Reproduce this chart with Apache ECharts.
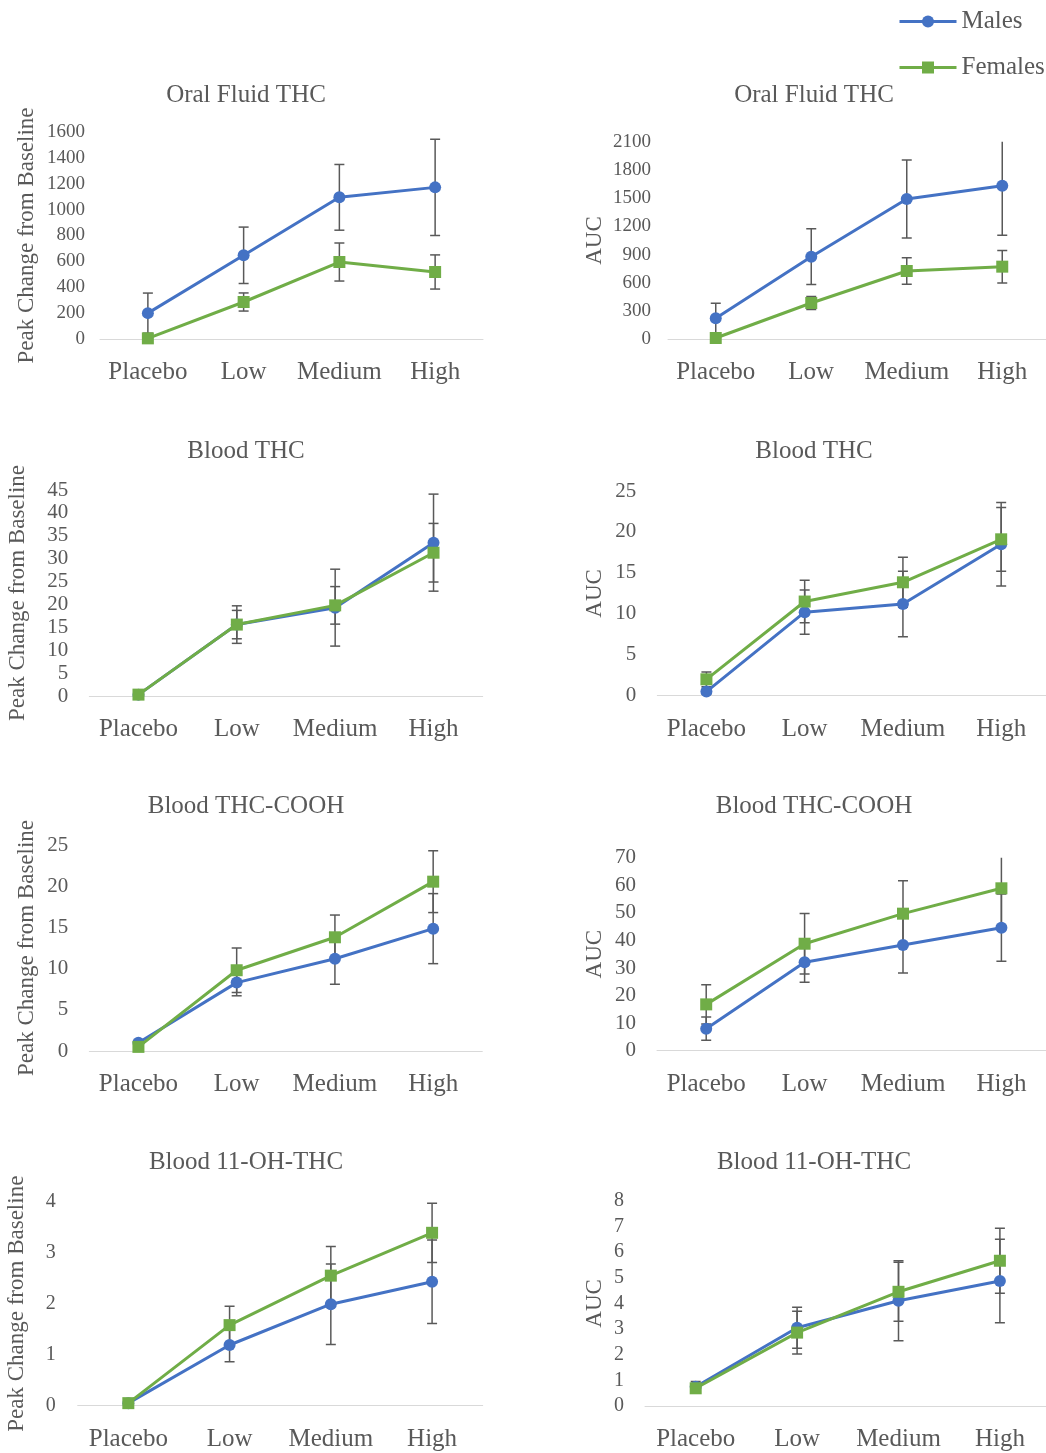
<!DOCTYPE html>
<html>
<head>
<meta charset="utf-8">
<script src="https://cdn.jsdelivr.net/npm/echarts@6/dist/echarts.min.js"></script>
<style>
html,body{margin:0;padding:0;background:#fff;overflow:hidden;}
#chart{width:1060px;height:1453px;}
</style>
</head>
<body>
<div id="chart"></div>
<script>
// ---- data ----
const categories = ['Placebo', 'Low', 'Medium', 'High'];
const seriesNames = ['Males', 'Females'];
const panelTitles = ['Oral Fluid THC', 'Oral Fluid THC', 'Blood THC', 'Blood THC',
  'Blood THC-COOH', 'Blood THC-COOH', 'Blood 11-OH-THC', 'Blood 11-OH-THC'];
const axisNames = ['Peak Change from Baseline', 'AUC', 'Peak Change from Baseline', 'AUC',
  'Peak Change from Baseline', 'AUC', 'Peak Change from Baseline', 'AUC'];
const yMax = [1600, 2100, 45, 25, 25, 70, 4, 8];
const yStep = [200, 300, 5, 5, 5, 10, 1, 1];

const oralPeakMales = [200, 647, 1095, 1172];
const oralPeakMalesErr = [155, 218, 254, 372];
const oralPeakFemales = [5, 286, 595, 518];
const oralPeakFemalesErr = [10, 70, 147, 132];

const oralAucMales = [223, 878, 1491, 1632];
const oralAucMalesErr = [160, 296, 415, 525];
const oralAucFemales = [14, 386, 726, 772];
const oralAucFemalesErr = [15, 70, 141, 173];

const thcPeakMales = [0.3, 15.6, 19.3, 33.5];
const thcPeakMalesErr = [0.2, 4.1, 8.4, 10.6];
const thcPeakFemales = [0.3, 15.6, 19.8, 31.3];
const thcPeakFemalesErr = [0.2, 3.1, 4.1, 6.4];

const thcAucMales = [0.5, 10.2, 11.2, 18.5];
const thcAucMalesErr = [0.3, 2.7, 4.0, 5.1];
const thcAucFemales = [2.0, 11.5, 13.85, 19.1];
const thcAucFemalesErr = [0.9, 2.6, 3.05, 3.9];

const coohPeakMales = [1.0, 8.3, 11.2, 14.85];
const coohPeakMalesErr = [0.3, 1.6, 3.1, 4.25];
const coohPeakFemales = [0.5, 9.8, 13.8, 20.55];
const coohPeakFemalesErr = [0.2, 2.7, 2.7, 3.75];

const coohAucMales = [8.0, 32.1, 38.3, 44.6];
const coohAucMalesErr = [4.2, 7.3, 10.1, 12.2];
const coohAucFemales = [16.8, 38.8, 49.7, 58.9];
const coohAucFemalesErr = [7.1, 11.0, 11.9, 13.5];

const ohPeakMales = [0.05, 1.19, 1.99, 2.43];
const ohPeakMalesErr = [0.02, 0.33, 0.79, 0.82];
const ohPeakFemales = [0.05, 1.58, 2.55, 3.39];
const ohPeakFemalesErr = [0.02, 0.37, 0.57, 0.58];

const ohAucMales = [0.75, 3.05, 4.1, 4.87];
const ohAucMalesErr = [0.2, 0.8, 1.56, 1.63];
const ohAucFemales = [0.69, 2.86, 4.45, 5.66];
const ohAucFemalesErr = [0.15, 0.83, 1.15, 1.27];

const malesData = [oralPeakMales, oralAucMales, thcPeakMales, thcAucMales, coohPeakMales, coohAucMales, ohPeakMales, ohAucMales];
const malesErr = [oralPeakMalesErr, oralAucMalesErr, thcPeakMalesErr, thcAucMalesErr, coohPeakMalesErr, coohAucMalesErr, ohPeakMalesErr, ohAucMalesErr];
const femalesData = [oralPeakFemales, oralAucFemales, thcPeakFemales, thcAucFemales, coohPeakFemales, coohAucFemales, ohPeakFemales, ohAucFemales];
const femalesErr = [oralPeakFemalesErr, oralAucFemalesErr, thcPeakFemalesErr, thcAucFemalesErr, coohPeakFemalesErr, coohAucFemalesErr, ohPeakFemalesErr, ohAucFemalesErr];

// ---- layout (positions/styles) ----
const layout = [
  {left: 100, top: 132, width: 383, height: 207, nameGap: 62, labelMargin: 15, tickFont: 19, titleX: 246, titleY: 95},
  {left: 668, top: 141.7, width: 382, height: 197.6, nameGap: 62, labelMargin: 17, tickFont: 19, titleX: 814, titleY: 95},
  {left: 89.3, top: 490, width: 393.4, height: 206, nameGap: 60, labelMargin: 21, tickFont: 21, titleX: 246, titleY: 451},
  {left: 657.3, top: 491, width: 393, height: 204.7, nameGap: 51, labelMargin: 21, tickFont: 21, titleX: 814, titleY: 451},
  {left: 89.3, top: 845, width: 393, height: 206, nameGap: 51, labelMargin: 21, tickFont: 21, titleX: 246, titleY: 806},
  {left: 657, top: 857.7, width: 393.6, height: 193, nameGap: 51, labelMargin: 21, tickFont: 21, titleX: 814, titleY: 806},
  {left: 77.7, top: 1201.7, width: 405, height: 204, nameGap: 49, labelMargin: 22, tickFont: 20, titleX: 246, titleY: 1162},
  {left: 645, top: 1200.7, width: 405.6, height: 205.3, nameGap: 39, labelMargin: 21, tickFont: 20, titleX: 814, titleY: 1162}
];

const FONT = "'Liberation Serif', 'Times New Roman', serif";
const TXT = '#595959';
const BLUE = '#4472C4';
const GREEN = '#70AD47';

function errSeries(idx, means, errs) {
  return {
    type: 'custom', xAxisIndex: idx, yAxisIndex: idx, z: 1, silent: true,
    data: means.map((m, i) => [i, m - errs[i], m + errs[i]]),
    encode: {x: 0, y: [1, 2]},
    clip: true,
    renderItem: function (params, api) {
      const x = api.value(0);
      const lo = api.coord([x, api.value(1)]);
      const hi = api.coord([x, api.value(2)]);
      const hw = 5;
      const st = {stroke: '#595959', lineWidth: 1.5};
      return {type: 'group', children: [
        {type: 'line', shape: {x1: lo[0], y1: lo[1], x2: hi[0], y2: hi[1]}, style: st},
        {type: 'line', shape: {x1: lo[0] - hw, y1: lo[1], x2: lo[0] + hw, y2: lo[1]}, style: st},
        {type: 'line', shape: {x1: hi[0] - hw, y1: hi[1], x2: hi[0] + hw, y2: hi[1]}, style: st}
      ]};
    }
  };
}

const grids = [], xAxes = [], yAxes = [], series = [], graphics = [];
layout.forEach((L, i) => {
  grids.push({left: L.left, top: L.top, width: L.width, height: L.height, containLabel: false});
  xAxes.push({
    type: 'category', gridIndex: i, data: categories, boundaryGap: true,
    axisLine: {show: true, lineStyle: {color: '#D9D9D9', width: 1}},
    axisTick: {show: false},
    axisLabel: {color: TXT, fontFamily: FONT, fontSize: 25, margin: 21, interval: 0}
  });
  yAxes.push({
    type: 'value', gridIndex: i, min: 0, max: yMax[i], interval: yStep[i],
    name: axisNames[i], nameLocation: 'middle', nameGap: L.nameGap, nameRotate: 90,
    nameTextStyle: {color: TXT, fontFamily: FONT, fontSize: 23},
    axisLine: {show: false}, axisTick: {show: false}, splitLine: {show: false},
    axisLabel: {color: TXT, fontFamily: FONT, fontSize: L.tickFont, margin: L.labelMargin,
      formatter: function (v) { return String(v); }}
  });
  series.push(errSeries(i, malesData[i], malesErr[i]));
  series.push(errSeries(i, femalesData[i], femalesErr[i]));
  series.push({
    name: seriesNames[0], type: 'line', xAxisIndex: i, yAxisIndex: i, z: 3,
    data: malesData[i], symbol: 'circle', symbolSize: 12, showAllSymbol: true,
    lineStyle: {color: BLUE, width: 3}, itemStyle: {color: BLUE}, animation: false
  });
  series.push({
    name: seriesNames[1], type: 'line', xAxisIndex: i, yAxisIndex: i, z: 4,
    data: femalesData[i], symbol: 'rect', symbolSize: 12, showAllSymbol: true,
    lineStyle: {color: GREEN, width: 3}, itemStyle: {color: GREEN}, animation: false
  });
  graphics.push({
    type: 'text', x: L.titleX, y: L.titleY,
    style: {text: panelTitles[i], fill: TXT, font: "25px " + FONT, textAlign: 'center', textVerticalAlign: 'middle'}
  });
});

const chart = echarts.init(document.getElementById('chart'), null, {renderer: 'canvas'});
chart.setOption({
  animation: false,
  backgroundColor: '#ffffff',
  textStyle: {fontFamily: FONT},
  grid: grids, xAxis: xAxes, yAxis: yAxes, series: series,
  graphic: graphics,
  legend: {
    data: seriesNames, orient: 'vertical', left: 898, top: 9, itemGap: 21, padding: 0,
    itemWidth: 57, itemHeight: 15,
    lineStyle: {width: 3},
    textStyle: {color: TXT, fontFamily: FONT, fontSize: 25}
  }
});
</script>
</body>
</html>
